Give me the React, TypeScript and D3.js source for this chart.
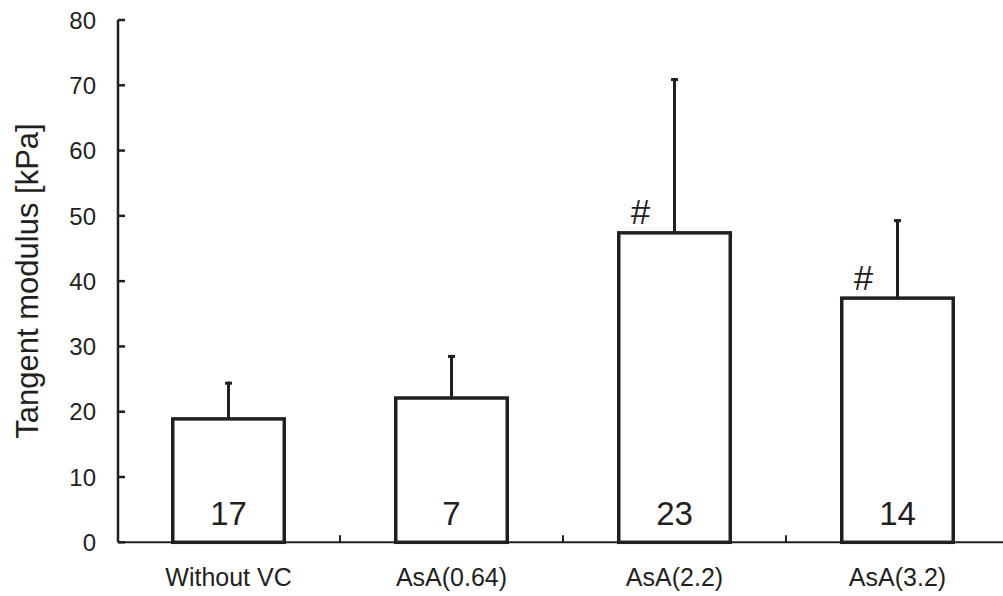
import React from "react";
import * as d3 from "d3";

const categories = ["Without VC", "AsA(0.64)", "AsA(2.2)", "AsA(3.2)"];
const means = [18.9, 22.1, 47.4, 37.4];
const errTops = [24.6, 28.7, 71.1, 49.5];
const counts = ["17", "7", "23", "14"];
const marks = ["", "", "#", "#"];
const yTicks = [0, 10, 20, 30, 40, 50, 60, 70, 80];

const W = 1003;
const H = 596;
const INK = "#231f20";
const FONT = "'Liberation Sans', Arial, Helvetica, sans-serif";

export default function App() {
  const y = d3.scaleLinear().domain([0, 80]).range([542.3, 20]);
  const x = d3
    .scaleBand<string>()
    .domain(categories)
    .range([117, 1009])
    .paddingInner(0.5)
    .paddingOuter(0.25);
  const axisX = 118;
  const bw = x.bandwidth();
  const step = x.step();

  return (
    <svg
      width={W}
      height={H}
      style={{ position: "absolute", left: 0, top: 0, background: "#fff" }}
      fontFamily={FONT}
    >
      {/* y axis */}
      <line x1={axisX} x2={axisX} y1={y(80)} y2={y(0)} stroke={INK} strokeWidth={2.5} />
      {yTicks.map((t) => (
        <g key={t}>
          <line x1={axisX} x2={axisX + 7} y1={y(t)} y2={y(t)} stroke={INK} strokeWidth={2.5} />
          <text x={96} y={y(t)} dy="0.36em" textAnchor="end" fontSize={24} fill={INK}>
            {t}
          </text>
        </g>
      ))}
      <text
        transform={`translate(38,281) rotate(-90)`}
        textAnchor="middle"
        fontSize={31}
        fill={INK}
      >
        Tangent modulus [kPa]
      </text>

      {/* x axis */}
      <line x1={axisX} x2={W} y1={y(0)} y2={y(0)} stroke={INK} strokeWidth={2} />
      {categories.slice(1).map((c) => {
        const tx = (x(c) as number) - (step - bw) / 2;
        return (
          <line key={c} x1={tx} x2={tx} y1={y(0)} y2={y(0) - 7} stroke={INK} strokeWidth={2} />
        );
      })}

      {/* bars */}
      {categories.map((c, i) => {
        const bx = x(c) as number;
        const cx = bx + bw / 2;
        return (
          <g key={c}>
            <line x1={cx} x2={cx} y1={y(means[i])} y2={y(errTops[i])} stroke={INK} strokeWidth={3} />
            <line x1={cx - 3.5} x2={cx + 3.5} y1={y(errTops[i]) + 1.5} y2={y(errTops[i]) + 1.5} stroke={INK} strokeWidth={3} />
            <rect
              x={bx}
              y={y(means[i])}
              width={bw}
              height={y(0) - y(means[i])}
              fill="#fff"
              stroke={INK}
              strokeWidth={3.5}
            />
            <text x={cx} y={525} textAnchor="middle" fontSize={33} fill={INK}>
              {counts[i]}
            </text>
            {marks[i] && (
              <text x={cx - 34} y={y(means[i]) - 8.5} textAnchor="middle" fontSize={35} fill={INK}>
                {marks[i]}
              </text>
            )}
            <text x={cx} y={586} textAnchor="middle" fontSize={25} fill={INK}>
              {c}
            </text>
          </g>
        );
      })}
    </svg>
  );
}
